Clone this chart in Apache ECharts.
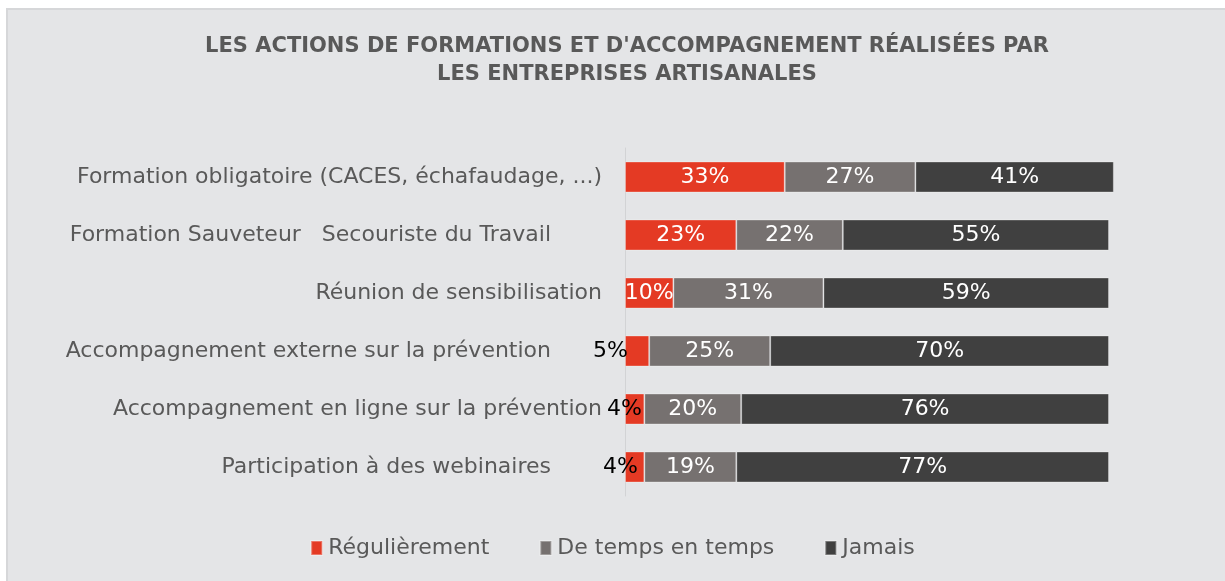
<!DOCTYPE html>
<html><head><meta charset="utf-8">
<script src="https://cdn.jsdelivr.net/npm/echarts@6/dist/echarts.min.js"></script>
<style>
html,body{margin:0;padding:0;background:#fff;}
#bg{position:absolute;left:6px;top:8px;right:0;bottom:0;background:#e4e5e7;border-left:2px solid #d6d7d9;border-top:2px solid #d6d7d9;}
#chart{position:absolute;left:0;top:0;width:1225px;height:581px;}
</style></head>
<body>
<div id="bg"></div>
<div id="chart"></div>
<script>
const categories = [
  'Formation obligatoire (CACES, échafaudage, ...)',
  'Formation Sauveteur   Secouriste du Travail',
  'Réunion de sensibilisation',
  'Accompagnement externe sur la prévention',
  'Accompagnement en ligne sur la prévention',
  'Participation à des webinaires'
];
const seriesNames = ['Régulièrement', 'De temps en temps', 'Jamais'];
const regulierement = [33, 23, 10, 5, 4, 4];
const deTempsEnTemps = [27, 22, 31, 25, 20, 19];
const jamais = [41, 55, 59, 70, 76, 77];
const titleText = "LES ACTIONS DE FORMATIONS ET D'ACCOMPAGNEMENT RÉALISÉES PAR\nLES ENTREPRISES ARTISANALES";

const FONT = "'DejaVu Sans', sans-serif";
const colors = ['#e43a24', '#767170', '#404040'];
const shifted = [false, true, false, true, false, true];
// label offsets (style only) for the small values shown outside the bar
const smallLabelDistance = {3: -3, 4: -17, 5: -13};

function makeData(arr, small) {
  return arr.map((v, i) => {
    if (small && v < 10) {
      return {value: v, label: {position: 'left', distance: smallLabelDistance[i] ?? -3, color: '#000'}};
    }
    return v;
  });
}

const chart = echarts.init(document.getElementById('chart'));
chart.setOption({
  animation: false,
  title: {
    text: titleText, left: 622, top: 28, textAlign: 'center',
    textStyle: {fontFamily: FONT, fontSize: 21, fontWeight: 'bold', color: '#595959', lineHeight: 28}
  },
  legend: {
    bottom: 17, left: 'center', itemWidth: 11, itemHeight: 14, itemGap: 50,
    icon: 'rect',
    textStyle: {fontFamily: FONT, fontSize: 22, color: '#595959', padding: [0, 0, 0, 1]},
    data: seriesNames
  },
  grid: {left: 625, width: 484, top: 148, height: 348},
  xAxis: {type: 'value', min: 0, max: 100, show: false},
  yAxis: {
    type: 'category', inverse: true, data: categories,
    axisLine: {show: true, lineStyle: {color: '#d2d3d5', width: 1}},
    axisTick: {show: false},
    axisLabel: {
      margin: 23, fontFamily: FONT, fontSize: 22, color: '#595959',
      formatter: (v, i) => shifted[i] ? '{b|' + v + '}' : '{a|' + v + '}',
      rich: {
        a: {fontFamily: FONT, fontSize: 22, color: '#595959'},
        b: {fontFamily: FONT, fontSize: 22, color: '#595959', padding: [0, 51, 0, 0]}
      }
    }
  },
  series: [regulierement, deTempsEnTemps, jamais].map((arr, k) => ({
    name: seriesNames[k], type: 'bar', stack: 'total', barWidth: 31, clip: false,
    itemStyle: {color: colors[k], borderColor: 'rgba(255,255,255,0.3)', borderWidth: 1},
    label: {show: true, position: 'inside', formatter: '{c}%', fontFamily: FONT, fontSize: 22, color: '#fff'},
    data: makeData(arr, k === 0)
  }))
});
</script>
</body></html>
